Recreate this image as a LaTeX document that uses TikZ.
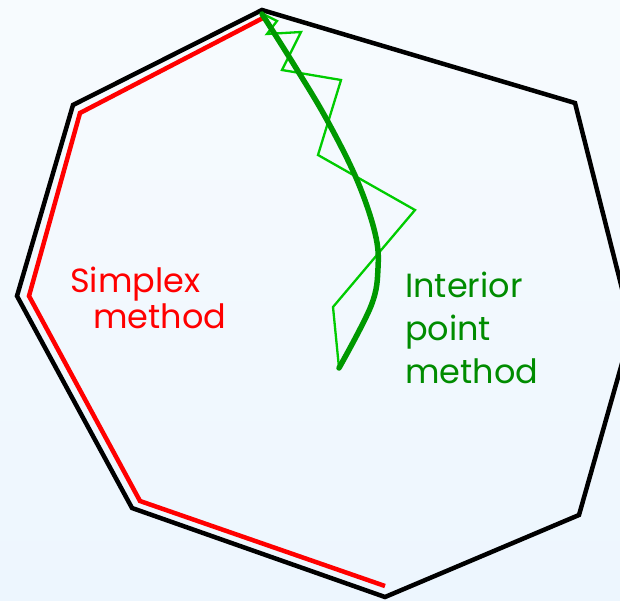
\documentclass[tikz,border=0pt]{standalone}
\usepackage{fontspec}
\setmainfont{Poppins}
\begin{document}
\begin{tikzpicture}[x=1pt,y=-1pt,
  poly/.style={black,line width=4.5pt,line join=miter},
  simplexpath/.style={red,line width=4.5pt,line join=miter},
  ipmcurve/.style={green!60!black,line width=5.5pt,line cap=round},
  ipmzig/.style={green!80!black,line width=2.3pt,line join=miter},
  lbl/.style={inner sep=0pt,anchor=base west,font=\fontsize{33.5}{40}\selectfont}]
\useasboundingbox (0,0) rectangle (620,600);
\shade[top color={rgb,255:red,247;green,251;blue,254},bottom color={rgb,255:red,237;green,246;blue,254}] (0,0) rectangle (620,600);
\clip (0,0) rectangle (620,600);
\draw[poly] (262,10) -- (575,103) -- (632,328) -- (579,515) -- (385,597) -- (132,508) -- (17,296) -- (73,105) -- cycle;
\draw[simplexpath] (385,586) -- (140,501) -- (29,296) -- (80,113) -- (263,18);
\draw[ipmzig] (263,14) -- (277,21) -- (267,34) -- (301,32) -- (282,70) -- (341,80) -- (318,155) -- (415,210) -- (333,307) -- (339,368);
\draw[ipmcurve] plot[smooth,tension=0.6] coordinates {(262,14) (296,68) (327,120) (357,180) (375,233) (378,268) (371,306) (339,368)};
\node[lbl,text=red] (simplex) at (70,292) {Simplex};
\node[lbl,text=red] (simplexm) at (93,328) {method};
\node[lbl,text=green!55!black] (interior) at (405,297) {Interior};
\node[lbl,text=green!55!black] (point) at (405,340) {point};
\node[lbl,text=green!55!black] (methodi) at (405,383) {method};
\end{tikzpicture}
\end{document}
